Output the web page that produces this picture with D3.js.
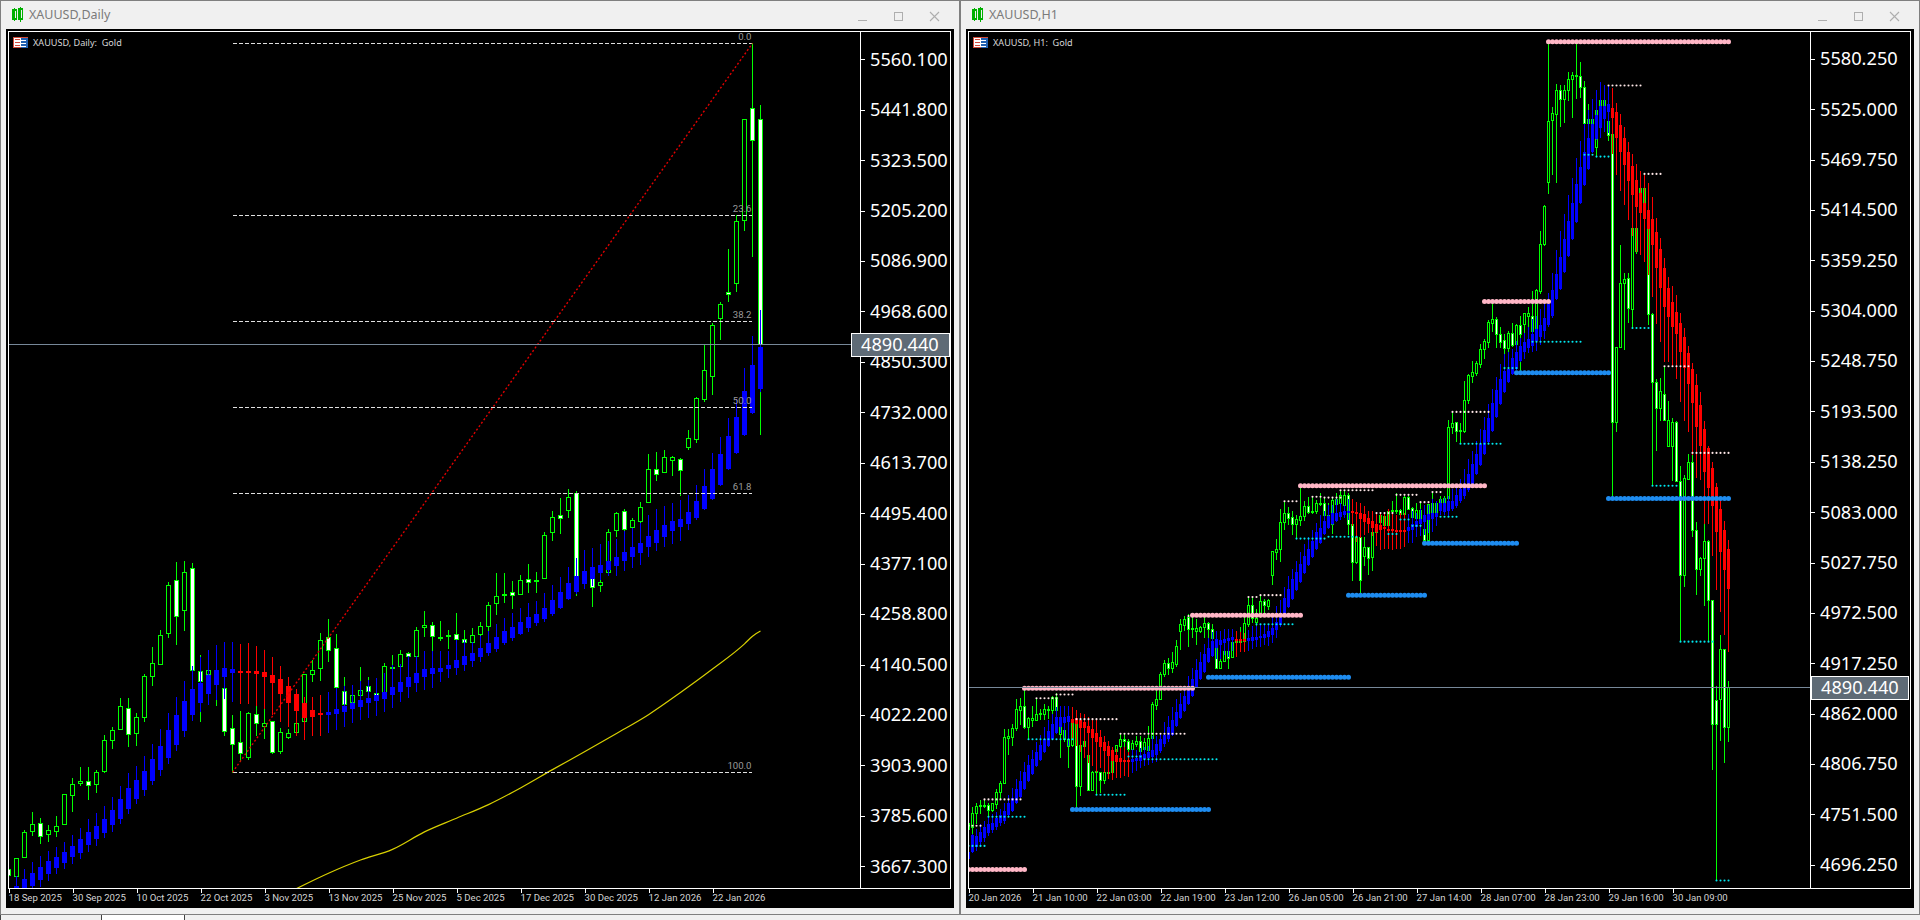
<!DOCTYPE html>
<html><head><meta charset="utf-8">
<script src="https://cdn.jsdelivr.net/npm/d3@7"></script>
<style>html,body{margin:0;padding:0;background:#f0f0f0;overflow:hidden}svg{display:block}text{white-space:pre}</style>
</head><body><svg id="c" width="1920" height="920"></svg>
<script>
// ---------- DAILY chart data: [open, high, low, close]
const dailyCandles=[
[3660,3668,3640,3646],[3643,3686,3619,3686],[3688,3751,3688,3747],[3748,3794,3739,3766],[3767,3780,3721,3738],[3742,3764,3725,3751],[3748,3785,3737,3760],[3765,3836,3765,3836],
[3833,3874,3795,3859],[3862,3898,3856,3866],[3866,3900,3823,3857],[3859,3893,3840,3887],[3890,3973,3887,3962],[3962,3994,3943,3986],[3987,4062,3987,4042],[4038,4060,3948,3977],
[3978,4025,3950,4017],[4017,4117,4006,4113],[4113,4181,4092,4143],[4141,4221,4141,4209],[4214,4332,4203,4326],[4338,4381,4188,4253],[4267,4382,4221,4357],[4366,4378,4120,4127],
[4124,4162,4006,4100],[4116,4127,4048,4127],[4104,4135,4045,4120],[4084,4084,3973,3983],[3991,4021,3888,3953],[3958,4030,3912,3932],[3922,4028,3917,4026],[4023,4048,3975,4002],
[3995,4034,3966,4002],[4007,4007,3931,3934],[3937,3991,3933,3981],[3969,3988,3967,3979],[3980,4002,3980,4002],[4006,4117,4006,4117],[4117,4151,4100,4127],[4131,4214,4102,4197],
[4204,4247,4147,4174],[4178,4212,4081,4086],[4077,4109,4045,4047],[4051,4073,4045,4068],[4068,4134,4061,4080],[4089,4110,4073,4077],[4073,4077,4061,4067],[4075,4142,4073,4136],
[4131,4161,4120,4134],[4135,4174,4135,4163],[4167,4169,4154,4160],[4159,4228,4159,4221],[4228,4266,4207,4232],[4232,4238,4170,4206],[4203,4242,4196,4204],[4206,4221,4177,4209],
[4211,4261,4194,4199],[4199,4221,4190,4192],[4192,4224,4190,4209],[4210,4239,4206,4230],[4229,4286,4220,4279],[4284,4355,4259,4299],[4302,4353,4287,4304],[4309,4336,4273,4302],
[4304,4350,4304,4338],[4339,4376,4310,4333],[4336,4357,4310,4338],[4343,4451,4343,4444],[4450,4500,4432,4486],[4490,4529,4449,4482],[4502,4552,4485,4532],[4542,4547,4303,4346],
[4339,4407,4319,4354],[4345,4346,4276,4321],[4326,4354,4313,4332],[4356,4458,4354,4450],[4454,4497,4440,4495],[4500,4503,4452,4457],[4461,4482,4460,4478],[4475,4520,4471,4509],
[4520,4632,4520,4598],[4597,4637,4572,4586],[4590,4643,4590,4626],[4618,4628,4583,4625],[4622,4624,4538,4596],[4649,4690,4646,4671],[4669,4768,4661,4765],[4762,4890,4757,4830],
[4816,4941,4773,4936],[4952,4990,4902,4985],[5013,5113,4991,5008],[5034,5193,5015,5180],[5182,5419,5158,5419],[5444,5597,5097,5370],[5419,5452,4679,4890.44]];
const dailyOverlay=[
[3590,3625,3570,3610],[3600,3644,3590,3621],[3604,3660,3595,3637],[3619,3677,3610,3651],[3635,3691,3619,3665],[3649,3702,3633,3679],[3663,3711,3651,3688],[3674,3724,3662,3700],
[3687,3740,3674,3714],[3698,3756,3686,3730],[3715,3776,3701,3747],[3729,3790,3717,3761],[3744,3808,3736,3777],[3762,3829,3748,3798],[3777,3855,3768,3824],[3801,3884,3791,3850],
[3824,3902,3815,3869],[3846,3926,3834,3889],[3866,3954,3858,3918],[3893,3987,3881,3949],[3919,4026,3909,3986],[3951,4063,3940,4021],[3984,4101,3971,4053],[4020,4137,4010,4081],
[4048,4156,4030,4096],[4071,4174,4047,4115],[4092,4185,4059,4127],[4109,4192,4061,4131],[4120,4192,4053,4129],[4124,4188,4049,4123],[4124,4191,4049,4123],[4124,4184,4045,4118],
[4122,4174,4038,4109],[4115,4158,4024,4095],[4106,4135,4006,4071],[4089,4109,3995,4050],[4070,4082,3973,4030],[4049,4063,3965,4013],[4033,4064,3973,4017],[4026,4069,3975,4020],
[4021,4075,3981,4028],[4024,4085,3987,4035],[4029,4088,3996,4043],[4034,4092,4004,4048],[4040,4100,4012,4056],[4048,4104,4016,4062],[4053,4108,4022,4069],[4059,4120,4030,4075],
[4067,4139,4040,4087],[4076,4141,4053,4099],[4087,4159,4063,4110],[4097,4159,4077,4120],[4109,4170,4082,4128],[4118,4170,4087,4132],[4123,4170,4101,4132],[4128,4170,4109,4138],
[4132,4196,4116,4151],[4138,4196,4127,4160],[4148,4193,4137,4167],[4157,4206,4147,4179],[4167,4217,4161,4190],[4176,4235,4170,4204],[4190,4249,4188,4218],[4202,4260,4198,4227],
[4212,4272,4210,4239],[4225,4284,4219,4251],[4237,4289,4233,4259],[4246,4306,4242,4272],[4259,4325,4256,4291],[4273,4345,4273,4310],[4292,4367,4292,4331],[4310,4389,4307,4348],
[4329,4407,4319,4359],[4339,4413,4327,4368],[4354,4421,4339,4373],[4362,4429,4350,4382],[4371,4433,4350,4392],[4382,4452,4360,4403],[4392,4460,4368,4414],[4401,4472,4376,4425],
[4414,4489,4393,4442],[4425,4503,4409,4456],[4439,4512,4418,4467],[4453,4518,4425,4476],[4462,4526,4432,4481],[4470,4536,4457,4498],[4483,4561,4481,4523],[4503,4598,4503,4559],
[4528,4636,4528,4597],[4561,4673,4561,4634],[4597,4718,4597,4676],[4635,4761,4635,4720],[4677,4834,4677,4780],[4729,4911,4729,4842],[4785,4970,4780,4883]];
const maBars=[36,40,44,48,52,56,60,64,68,72,76,80,84,88,92,93,94];
const maValues=[3615,3651,3682,3707,3748,3780,3812,3851,3894,3936,3979,4023,4075,4130,4189,4207,4219];
const fibHigh=5597.6, fibLow=3887.8, fibStartBar=28, fibEndBar=93;
const fibLevels=[0,23.6,38.2,50,61.8,100];
const dailyPriceTicks=[5560.1,5441.8,5323.5,5205.2,5086.9,4968.6,4850.3,4732,4613.7,4495.4,4377.1,4258.8,4140.5,4022.2,3903.9,3785.6,3667.3];
const dailyTimeLabels=["18 Sep 2025","30 Sep 2025","10 Oct 2025","22 Oct 2025","3 Nov 2025","13 Nov 2025","25 Nov 2025","5 Dec 2025","17 Dec 2025","30 Dec 2025","12 Jan 2026","22 Jan 2026"];

// ---------- H1 chart data: [open, high, low, close]
const hourCandles=[
[4735,4744,4730,4741],[4737,4759,4730,4753],[4753,4764,4742,4760],[4760,4767,4753,4761],[4760,4768,4759,4761],[4761,4763,4746,4756],[4756,4764,4755,4763],[4762,4779,4758,4776],
[4775,4788,4768,4785],[4785,4845,4785,4836],[4835,4845,4817,4837],[4836,4850,4827,4846],[4846,4877,4844,4867],[4866,4879,4850,4870],[4870,4889,4846,4847],[4847,4858,4834,4857],
[4855,4870,4848,4857],[4855,4879,4855,4861],[4861,4867,4856,4862],[4861,4872,4856,4867],[4865,4870,4857,4867],[4865,4881,4861,4880],[4880,4884,4855,4865],[4839,4848,4814,4848],
[4843,4848,4832,4834],[4834,4843,4803,4826],[4827,4851,4826,4851],[4851,4851,4759,4782],[4782,4827,4772,4827],[4826,4832,4815,4832],[4816,4820,4778,4778],[4778,4799,4778,4798],
[4798,4809,4774,4799],[4798,4798,4775,4789],[4789,4797,4785,4797],[4797,4798,4796,4797],[4797,4810,4796,4810],[4820,4827,4810,4827],[4826,4840,4816,4834],[4834,4839,4824,4831],
[4831,4834,4821,4823],[4823,4833,4816,4829],[4828,4837,4826,4831],[4832,4837,4820,4820],[4823,4835,4821,4830],[4822,4848,4812,4835],[4835,4874,4825,4872],[4871,4887,4867,4878],
[4878,4907,4878,4905],[4905,4920,4903,4917],[4917,4922,4905,4912],[4912,4929,4907,4918],[4916,4942,4914,4936],[4952,4965,4932,4960],[4959,4969,4953,4965],[4967,4971,4936,4954],
[4954,4969,4945,4955],[4952,4965,4938,4955],[4952,4958,4951,4956],[4956,4967,4945,4961],[4961,4962,4944,4954],[4954,4960,4934,4944],[4933,4944,4911,4912],[4912,4922,4911,4919],
[4919,4931,4919,4930],[4930,4931,4912,4923],[4924,4941,4924,4940],[4940,4952,4939,4941],[4941,4956,4939,4941],[4941,4968,4941,4961],[4960,4989,4958,4981],[4981,4989,4962,4966],
[4962,4976,4958,4966],[4969,4991,4967,4985],[4985,4987,4969,4981],[4980,4987,4976,4986],[5013,5040,5004,5040],[5039,5053,5031,5042],[5042,5086,5029,5072],[5072,5095,5064,5081],
[5081,5088,5070,5076],[5077,5084,5059,5070],[5070,5079,5054,5075],[5074,5112,5068,5078],[5078,5095,5074,5089],[5089,5099,5082,5083],[5083,5100,5081,5084],[5084,5096,5081,5092],
[5092,5103,5090,5093],[5092,5099,5070,5079],[5073,5092,5066,5079],[5070,5099,5060,5096],[5097,5104,5079,5091],[5092,5106,5086,5101],[5090,5107,5083,5101],[5101,5103,5059,5070],
[5070,5070,5008,5028],[5028,5055,5027,5055],[5055,5055,4993,5008],[5034,5055,5025,5044],[5044,5044,5015,5032],[5033,5061,5019,5061],[5061,5071,5055,5070],[5072,5080,5068,5079],
[5068,5080,5066,5078],[5068,5086,5068,5084],[5084,5095,5082,5085],[5084,5103,5082,5085],[5085,5086,5080,5080],[5080,5100,5079,5099],[5099,5100,5086,5086],[5087,5088,5072,5077],
[5076,5093,5064,5085],[5075,5093,5075,5085],[5064,5075,5051,5052],[5052,5091,5051,5091],[5077,5104,5077,5092],[5081,5095,5079,5093],[5089,5100,5087,5097],[5089,5100,5086,5098],
[5098,5183,5096,5176],[5176,5192,5169,5180],[5181,5181,5160,5172],[5172,5180,5159,5173],[5171,5226,5170,5205],[5205,5234,5202,5233],[5232,5248,5225,5236],[5235,5248,5233,5246],
[5245,5267,5242,5261],[5261,5272,5252,5270],[5269,5293,5264,5291],[5290,5312,5281,5294],[5294,5297,5264,5278],[5278,5286,5264,5269],[5271,5278,5251,5262],[5262,5281,5257,5279],
[5279,5290,5265,5266],[5267,5289,5263,5288],[5288,5298,5237,5278],[5289,5301,5279,5301],[5298,5308,5287,5301],[5298,5325,5279,5281],[5281,5327,5280,5326],[5325,5391,5323,5377],
[5377,5419,5376,5418],[5445,5597,5433,5512],[5513,5527,5453,5520],[5519,5552,5445,5546],[5546,5551,5506,5536],[5536,5551,5510,5546],[5546,5565,5534,5558],[5557,5565,5516,5562],
[5561,5596,5537,5562],[5561,5576,5538,5549],[5549,5555,5509,5509],[5509,5530,5508,5514],[5509,5515,5508,5514],[5483,5524,5473,5523],[5529,5535,5500,5534],[5529,5535,5505,5534],
[5511,5511,5491,5496],[5497,5497,5098,5181],[5181,5264,5171,5264],[5264,5376,5264,5334],[5334,5345,5261,5338],[5339,5345,5291,5306],[5305,5394,5284,5394],[5394,5394,5367,5369],
[5421,5439,5414,5438],[5422,5453,5410,5438],[5393,5393,5289,5300],[5300,5301,5112,5225],[5225,5229,5151,5197],[5197,5230,5184,5215],[5212,5243,5184,5184],[5155,5204,5155,5184],
[5155,5186,5118,5181],[5181,5182,5117,5117],[5117,5133,4942,5013],[5013,5123,5001,5120],[5119,5146,5119,5137],[5137,5145,5056,5063],[5063,5072,4993,5020],[5020,5033,5014,5032],
[5032,5072,4981,5051],[5051,5052,4942,4986],[4986,4986,4801,4850],[4876,4892,4679,4850],[4877,4948,4833,4932],[4932,4932,4808,4847],[4847,4897,4832,4890.44]];
const hourOverlay=[
[4702,4717,4700,4710],[4710,4730,4710,4728],[4715,4735,4712,4727],[4721,4740,4718,4732],[4725,4744,4722,4737],[4731,4748,4728,4740],[4734,4751,4732,4742],[4737,4754,4735,4747],
[4741,4757,4739,4750],[4744,4764,4742,4755],[4750,4772,4750,4763],[4755,4780,4755,4769],[4763,4790,4763,4779],[4770,4799,4770,4788],[4779,4808,4779,4797],[4788,4816,4788,4805],
[4795,4822,4795,4812],[4804,4830,4804,4819],[4811,4838,4811,4827],[4819,4847,4819,4834],[4826,4854,4826,4842],[4834,4861,4834,4850],[4840,4869,4840,4858],[4847,4870,4841,4858],
[4851,4870,4834,4858],[4852,4870,4827,4859],[4856,4869,4834,4851],[4857,4865,4827,4850],[4855,4862,4821,4846],[4852,4861,4814,4846],[4848,4858,4808,4840],[4845,4855,4805,4835],
[4840,4854,4799,4830],[4836,4844,4803,4825],[4830,4837,4798,4820],[4826,4832,4791,4815],[4822,4825,4790,4810],[4816,4823,4792,4808],[4813,4824,4792,4808],[4811,4825,4794,4810],
[4811,4819,4793,4808],[4808,4823,4797,4812],[4809,4822,4800,4813],[4810,4824,4803,4816],[4812,4825,4805,4817],[4813,4826,4806,4819],[4814,4837,4808,4822],[4816,4837,4810,4828],
[4821,4840,4819,4834],[4828,4852,4826,4838],[4834,4859,4832,4847],[4838,4869,4838,4855],[4848,4878,4848,4863],[4857,4884,4857,4872],[4864,4892,4864,4881],[4872,4903,4872,4891],
[4881,4912,4881,4900],[4891,4921,4891,4909],[4899,4929,4899,4918],[4907,4938,4907,4927],[4918,4944,4918,4934],[4925,4951,4925,4941],[4933,4952,4923,4943],[4937,4952,4923,4942],
[4939,4954,4927,4943],[4941,4954,4925,4944],[4942,4954,4931,4945],[4943,4952,4925,4942],[4943,4951,4930,4942],[4943,4950,4930,4942],[4941,4953,4931,4944],[4941,4958,4933,4945],
[4942,4958,4936,4946],[4944,4960,4936,4947],[4944,4960,4938,4949],[4946,4960,4937,4952],[4948,4969,4940,4955],[4953,4979,4945,4962],[4959,4986,4958,4972],[4971,5000,4971,4988],
[4978,5012,4978,4998],[4987,5020,4987,5009],[4997,5029,4997,5017],[5006,5039,5006,5026],[5016,5048,5016,5034],[5025,5055,5025,5042],[5033,5063,5033,5051],[5042,5071,5042,5061],
[5049,5079,5049,5065],[5058,5084,5058,5073],[5065,5090,5065,5078],[5070,5090,5069,5081],[5073,5097,5073,5081],[5077,5093,5075,5083],[5079,5090,5077,5084],[5081,5097,5075,5084],
[5084,5097,5068,5083],[5083,5094,5051,5080],[5082,5092,5055,5075],[5080,5089,5059,5072],[5076,5084,5061,5069],[5073,5084,5057,5065],[5070,5081,5046,5061],[5068,5082,5042,5063],
[5066,5082,5043,5064],[5064,5086,5043,5063],[5064,5081,5042,5063],[5063,5079,5043,5062],[5063,5081,5043,5062],[5063,5082,5045,5062],[5062,5080,5050,5066],[5063,5084,5050,5070],
[5066,5082,5056,5073],[5070,5086,5057,5075],[5072,5090,5059,5079],[5074,5090,5061,5080],[5075,5097,5062,5081],[5077,5095,5068,5082],[5084,5097,5080,5093],[5083,5098,5080,5093],
[5084,5100,5078,5095],[5086,5108,5085,5095],[5089,5109,5088,5101],[5095,5119,5094,5108],[5100,5130,5098,5111],[5107,5141,5106,5124],[5112,5150,5112,5135],[5124,5160,5124,5146],
[5134,5174,5134,5157],[5146,5187,5146,5173],[5159,5201,5159,5186],[5172,5217,5172,5202],[5187,5231,5187,5216],[5201,5245,5201,5229],[5214,5256,5214,5237],[5225,5258,5225,5240],
[5234,5261,5234,5251],[5239,5270,5239,5258],[5248,5274,5248,5265],[5258,5279,5252,5269],[5262,5285,5258,5272],[5265,5294,5259,5278],[5270,5298,5260,5283],[5275,5305,5267,5288],
[5281,5312,5274,5295],[5288,5323,5287,5311],[5298,5345,5297,5326],[5316,5370,5316,5344],[5327,5391,5327,5362],[5346,5409,5346,5382],[5363,5430,5363,5402],[5382,5449,5382,5422],
[5401,5471,5401,5442],[5422,5489,5422,5461],[5441,5508,5441,5477],[5459,5523,5459,5493],[5477,5536,5477,5508],[5492,5546,5492,5518],[5504,5554,5494,5528],[5514,5551,5500,5528],
[5521,5551,5499,5530],[5526,5548,5476,5515],[5521,5531,5453,5493],[5507,5519,5436,5478],[5493,5505,5420,5463],[5477,5488,5404,5446],[5462,5475,5386,5430],[5447,5464,5369,5417],
[5433,5457,5366,5411],[5422,5452,5358,5404],[5414,5443,5344,5393],[5404,5428,5319,5375],[5390,5405,5290,5350],[5371,5383,5270,5328],[5350,5361,5248,5307],[5328,5340,5248,5297],
[5313,5331,5243,5286],[5302,5321,5230,5278],[5290,5301,5204,5258],[5275,5284,5184,5241],[5257,5265,5172,5223],[5240,5246,5146,5202],[5222,5234,5121,5176],[5200,5214,5119,5155],
[5174,5182,5071,5127],[5153,5155,5071,5109],[5131,5137,5035,5089],[5110,5114,4998,5061],[5086,5099,4974,5039],[5063,5073,4949,5019],[5042,5052,4930,4998]];
// level runs: [first bar, last bar, price]
const pinkLevels=[[0,14,4691],[14,56,4890],[56,83,4970],[83,129,5112],[129,145,5314],[145,190,5599]];
const blueLevels=[[26,60,4757],[60,95,4902],[95,114,4992],[114,137,5049],[137,160,5236],[160,190,5098]];
const whiteLevels=[[0,3,4739],[4,13,4768],[17,22,4879],[22,26,4883],[27,37,4856],[38,54,4840],[55,56,4969],[70,72,4990],[73,78,4992],[79,82,5095],[86,88,5100],[89,93,5099],[93,101,5107],[102,106,5082],[107,112,5102],[113,115,5094],[116,118,5105],[121,130,5193],[160,168,5551],[169,173,5454],[174,180,5243],[181,190,5148]];
const cyanLevels=[[0,4,4717],[5,14,4749],[15,26,4834],[32,39,4773],[40,43,4815],[44,62,4812],[72,81,4960],[82,89,5054],[90,97,5056],[105,107,5059],[108,110,5075],[111,113,5068],[118,122,5078],[123,133,5158],[134,137,5241],[141,153,5270],[154,156,5475],[157,160,5473],[166,170,5285],[171,177,5112],[178,186,4941],[187,190,4679]];
const hourPriceTicks=[5580.25,5525,5469.75,5414.5,5359.25,5304,5248.75,5193.5,5138.25,5083,5027.75,4972.5,4917.25,4862,4806.75,4751.5,4696.25];
const hourTimeLabels=["20 Jan 2026","21 Jan 10:00","22 Jan 03:00","22 Jan 19:00","23 Jan 12:00","26 Jan 05:00","26 Jan 21:00","27 Jan 14:00","28 Jan 07:00","28 Jan 23:00","29 Jan 16:00","30 Jan 09:00"];
const lastPrice=4890.44;

const svg=d3.select('#c');
const FONT="'Noto Sans',sans-serif";
function chrome(ox,title,info){
  const g=svg.append('g').attr('transform',`translate(${ox},0)`);
  g.append('rect').attr('x',0).attr('y',0).attr('width',960).attr('height',914).attr('fill','#f0f0f0');
  g.append('path').attr('d','M0.5,914V0.5H959.5V914').attr('fill','none').attr('stroke','#7f7f7f').attr('shape-rendering','crispEdges');
  g.append('rect').attr('x',6).attr('y',29).attr('width',948).attr('height',879).attr('fill','#000');
  const ic=g.append('g').attr('fill','none').attr('stroke','#00b000').attr('stroke-width',1.5).attr('shape-rendering','crispEdges');
  ic.append('rect').attr('x',13).attr('y',10).attr('width',3.5).attr('height',9);
  ic.append('rect').attr('x',19).attr('y',9).attr('width',3.5).attr('height',10);
  ic.append('path').attr('d','M14.7,7.5V21M20.7,7V21.5');
  g.append('text').attr('x',29).attr('y',19).attr('font-family',FONT).attr('font-size',12.5).attr('fill','#7b7b7b').text(title);
  const b=g.append('g').attr('fill','none').attr('stroke','#aeaeae').attr('shape-rendering','crispEdges');
  b.append('path').attr('d','M858,20.5H867');
  b.append('rect').attr('x',894.5).attr('y',12.5).attr('width',8).attr('height',8);
  b.append('path').attr('d','M930,12L939,21M939,12L930,21').attr('shape-rendering','auto').attr('stroke-width',1.1);
  const f=g.append('g').attr('shape-rendering','crispEdges');
  f.append('rect').attr('x',13.5).attr('y',37.5).attr('width',14).attr('height',10).attr('fill','#fff').attr('stroke','#d04a3a');
  f.append('rect').attr('x',21).attr('y',37.5).attr('width',6.5).attr('height',10).attr('fill','#1f5fb0');
  f.selectAll('.s').data([40,43,46]).join('rect').attr('x',15).attr('y',d=>d-.5).attr('width',11).attr('height',1).attr('fill','#fff');
  f.selectAll('.r').data([40,43,46]).join('rect').attr('x',15).attr('y',d=>d-1.5).attr('width',5).attr('height',1).attr('fill','#d04a3a');
  g.append('text').attr('x',33).attr('y',46).attr('font-family',FONT).attr('font-size',9.1).attr('fill','#d8d8d8').text(info);
}
chrome(0,'XAUUSD,Daily','XAUUSD, Daily:  Gold');
chrome(960,'XAUUSD,H1','XAUUSD, H1:  Gold');
const tabs=svg.append('g').attr('shape-rendering','crispEdges');
tabs.append('rect').attr('x',0).attr('y',914).attr('width',1920).attr('height',6).attr('fill','#f0f0f0');
tabs.append('rect').attr('x',0).attr('y',914).attr('width',1920).attr('height',1).attr('fill','#7f7f7f');
tabs.append('rect').attr('x',101).attr('y',915).attr('width',83).attr('height',5).attr('fill','#fff');
tabs.append('path').attr('d','M0.5,915V920M101.5,915V920M184.5,915V920').attr('stroke','#444').attr('fill','none');

function panel(o){
  const n=o.candles.length;
  const x=d3.scaleLinear().domain([0,n-1]).range(o.xRange);
  const y=d3.scaleLinear().domain(o.yDomain).range(o.yRange);
  const py=v=>Math.floor(y(v));
  const clipId='clip'+o.id;
  svg.append('clipPath').attr('id',clipId).append('rect').attr('x',o.left+1).attr('y',32).attr('width',o.right-o.left-1).attr('height',856);
  const plot=svg.append('g').attr('clip-path',`url(#${clipId})`);
  const cg=plot.append('g').attr('shape-rendering','crispEdges');
  const cs=cg.selectAll('g').data(o.candles).join('g');
  cs.append('line').attr('x1',(d,i)=>x(i)).attr('x2',(d,i)=>x(i)).attr('y1',d=>py(d[1])).attr('y2',d=>py(d[2])+1).attr('stroke','#00ff00');
  cs.append('rect').attr('x',(d,i)=>x(i)-o.bw/2).attr('width',o.bw)
    .attr('y',d=>py(Math.max(d[0],d[3]))+.5).attr('height',d=>Math.max(1,py(Math.min(d[0],d[3]))-py(Math.max(d[0],d[3]))))
    .attr('fill',d=>d[3]<d[0]?'#fff':'#000').attr('stroke','#00ff00');
  const og=plot.append('g').attr('shape-rendering','crispEdges');
  const os=og.selectAll('g').data(o.overlay).join('g');
  const oc=d=>d[3]>=d[0]?'#0000ff':'#ff0000';
  os.append('line').attr('x1',(d,i)=>x(i)).attr('x2',(d,i)=>x(i)).attr('y1',d=>py(d[1])).attr('y2',d=>py(d[2])+1).attr('stroke',oc);
  os.append('rect').attr('x',(d,i)=>x(i)-o.ow/2).attr('width',o.ow)
    .attr('y',d=>py(Math.max(d[0],d[3]))).attr('height',d=>Math.max(2,py(Math.min(d[0],d[3]))-py(Math.max(d[0],d[3]))))
    .attr('fill',oc);
  if(o.extra) o.extra(plot,x,y);
  plot.append('line').attr('x1',o.left).attr('x2',o.right).attr('y1',py(lastPrice)+.5).attr('y2',py(lastPrice)+.5).attr('stroke','#778899').attr('shape-rendering','crispEdges');
  svg.append('path').attr('d',`M${o.left}.5,31.5H${o.border}.5V888.5H${o.left}.5ZM${o.right}.5,31.5V888.5`).attr('fill','none').attr('stroke','#fff').attr('shape-rendering','crispEdges');
  const ya=d3.axisRight(y).tickValues(o.priceTicks).tickSize(4).tickPadding(5.5).tickFormat(d3.format('.3f'));
  const yg=svg.append('g').attr('transform',`translate(${o.right+.5},0)`).call(ya);
  yg.select('.domain').remove();
  yg.selectAll('line').attr('stroke','#fff').attr('shape-rendering','crispEdges');
  yg.selectAll('text').attr('fill','#fff').attr('font-family',FONT).attr('font-size',18.2);
  const xa=d3.axisBottom(x).tickValues(d3.range(0,n,o.tickStep)).tickSize(4).tickPadding(2).tickFormat((d,i)=>o.timeLabels[i]);
  const xg=svg.append('g').attr('transform','translate(0,888.5)').call(xa);
  xg.select('.domain').remove();
  xg.selectAll('line').attr('stroke','#fff').attr('shape-rendering','crispEdges');
  xg.selectAll('text').attr('fill','#d4d4d4').attr('font-family',"Roboto,sans-serif").attr('font-size',9.6).attr('text-anchor','start').attr('dx',-.5);
  const by=py(lastPrice);
  svg.append('rect').attr('x',o.right-9+.5+(o.id=='h'?10:0)).attr('y',by-11).attr('width',o.boxW).attr('height',23).attr('fill','#5f6b76').attr('stroke','#fff').attr('shape-rendering','crispEdges');
  svg.append('text').attr('x',o.boxText).attr('y',by+7).attr('font-family',FONT).attr('font-size',18.2).attr('fill','#fff').text(d3.format('.3f')(lastPrice));
}

panel({id:'d',candles:dailyCandles,overlay:dailyOverlay,xRange:[8.5,760.5],yDomain:[5560.1,3667.3],yRange:[59.3,866.3],
  left:8,right:860,border:950,bw:4,ow:5,tickStep:8,priceTicks:dailyPriceTicks,timeLabels:dailyTimeLabels,boxW:98,boxText:861,
  extra(plot,x,y){
    const line=d3.line().curve(d3.curveMonotoneX).x(d=>x(d[0])).y(d=>y(d[1]));
    plot.append('path').attr('d',line(maBars.map((b,i)=>[b,maValues[i]]))).attr('fill','none').attr('stroke','#d8d000').attr('stroke-width',1.2);
    const fibY=l=>fibHigh-(fibHigh-fibLow)*l/100;
    const fg=plot.append('g');
    fg.selectAll('line').data(fibLevels).join('line').attr('x1',x(fibStartBar)).attr('x2',x(fibEndBar)-1)
      .attr('y1',d=>Math.floor(y(fibY(d)))+.5).attr('y2',d=>Math.floor(y(fibY(d)))+.5).attr('stroke','#e0e0e0').attr('stroke-dasharray','4,2').attr('shape-rendering','crispEdges');
    fg.selectAll('text').data(fibLevels).join('text').attr('x',x(fibEndBar)-1).attr('y',d=>y(fibY(d))-3.5).attr('text-anchor','end')
      .attr('font-family',"Roboto,sans-serif").attr('font-size',9.6).attr('fill','#9a9a9a').text(d=>d.toFixed(1));
    plot.append('line').attr('x1',x(fibStartBar)).attr('y1',y(fibLow)).attr('x2',x(fibEndBar)).attr('y2',y(fibHigh)).attr('stroke','#e00000').attr('stroke-width',1.4).attr('stroke-dasharray','2,2.2');
  }});

panel({id:'h',candles:hourCandles,overlay:hourOverlay,xRange:[968.5,1728.5],yDomain:[5580.25,4696.25],yRange:[58.8,864.8],
  left:968,right:1810,border:1910,bw:2,ow:3,tickStep:16,priceTicks:hourPriceTicks,timeLabels:hourTimeLabels,boxW:97,boxText:1821,
  extra(plot,x,y){
    const dots=(runs,r,col)=>{
      runs.forEach(([a,b,p])=>{
        plot.append('g').selectAll('circle').data(d3.range(a,b+1)).join('circle')
          .attr('cx',i=>x(i)).attr('cy',y(p)).attr('r',r).attr('fill',col);
      });
    };
    dots(whiteLevels,1.05,'#ffe8e8');
    dots(cyanLevels,1.05,'#00e8f0');
    dots(pinkLevels,2.5,'#ffb6c6');
    dots(blueLevels,2.5,'#1e8cf0');
  }});
</script></body></html>
